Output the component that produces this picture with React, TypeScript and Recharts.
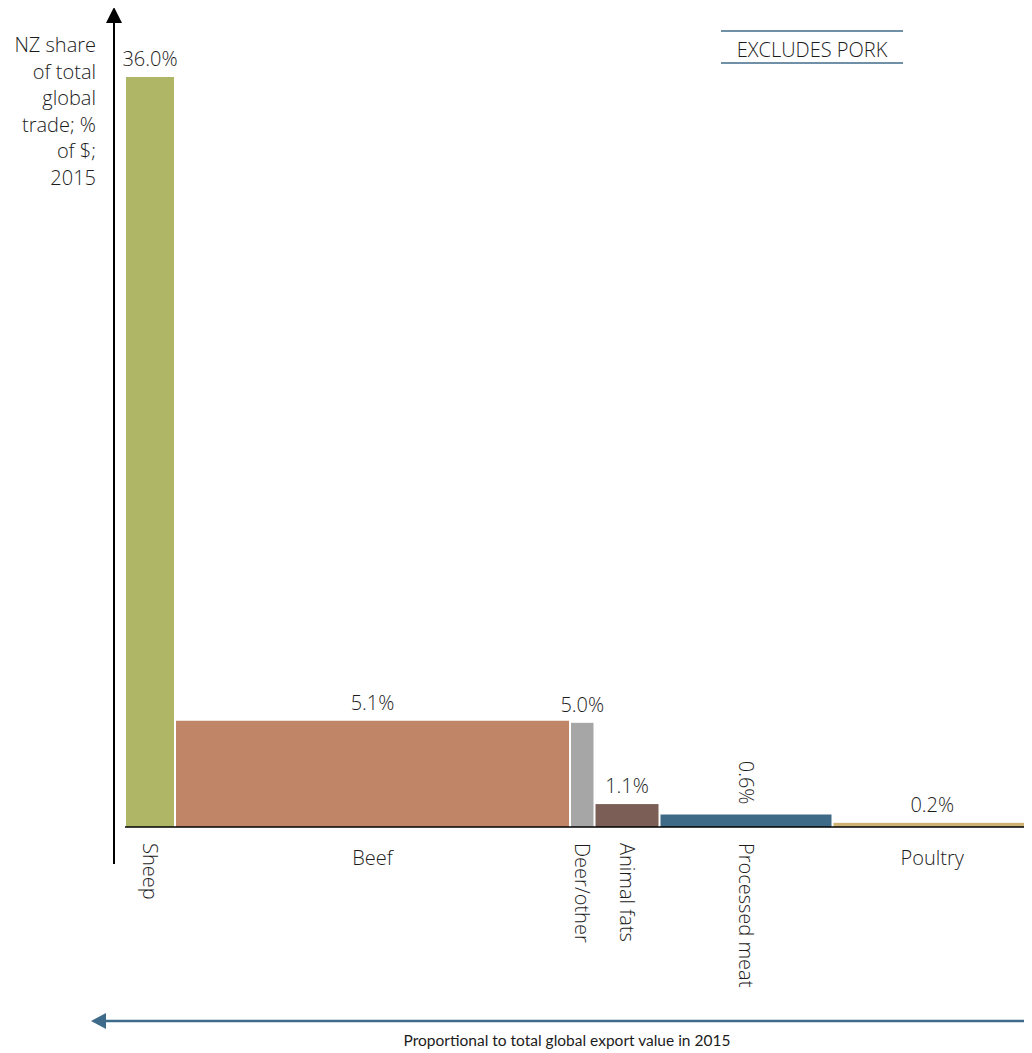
import { ComposedChart, XAxis, YAxis, ReferenceArea, Line } from 'recharts';

// Marimekko: width = share of global export value 2015, height = NZ share of that trade
const categories = ['Sheep', 'Beef', 'Deer/other', 'Animal fats', 'Processed meat', 'Poultry'];
const exportValue = [50, 395, 24.5, 65, 173, 199.5]; // relative
const nzShare = [36.0, 5.1, 5.0, 1.1, 0.6, 0.2];
const shareLabels = ['36.0%', '5.1%', '5.0%', '1.1%', '0.6%', '0.2%'];

const barColors = ['#afb666', '#c08566', '#a6a6a6', '#7b5e55', '#3e6a87', '#cfb273'];
const verticalName = [true, false, true, true, true, false];
const verticalValue = [false, false, false, false, true, false];

const INK = '#1c1c1c';
const FONT = '"Open Sans", "Noto Sans", sans-serif';
const WEIGHT = 300;
const STEEL = '#3f6b8a';

const total = exportValue.reduce((a, b) => a + b, 0);
const rows = categories.map((name, i) => {
  const start = exportValue.slice(0, i).reduce((a, b) => a + b, 0);
  return { name, start, end: start + exportValue[i], mid: start + exportValue[i] / 2, share: nzShare[i] };
});

const W = 1024;
const H = 1045;

function barShape(i: number) {
  return (p: any) => {
    const { x, y, width, height } = p;
    const cx = x + width / 2;
    return (
      <g>
        <rect x={x + 1} y={y} width={Math.max(width - 2, 0)} height={height} fill={barColors[i]} />
        {verticalValue[i] ? (
          <text
            x={cx}
            y={y - 10}
            transform={`rotate(90 ${cx} ${y - 10})`}
            textAnchor="end"
            dominantBaseline="central"
            fontSize={20}
            fontWeight={WEIGHT}
            fill={INK}
            fontFamily={FONT}
          >
            {shareLabels[i]}
          </text>
        ) : (
          <text x={cx} y={y - 11} textAnchor="middle" fontSize={20} fontWeight={WEIGHT} fill={INK} fontFamily={FONT}>
            {shareLabels[i]}
          </text>
        )}
      </g>
    );
  };
}

function NameTick(props: any) {
  const { x, y, payload } = props;
  const i = rows.findIndex((r) => Math.abs(r.mid - payload.value) < 1e-6);
  if (i < 0) return null;
  if (verticalName[i]) {
    return (
      <text
        x={x}
        y={y + 16}
        transform={`rotate(90 ${x} ${y + 16})`}
        textAnchor="start"
        dominantBaseline="central"
        fontSize={20}
        fontWeight={WEIGHT}
        fill={INK}
        fontFamily={FONT}
      >
        {categories[i]}
      </text>
    );
  }
  return (
    <text x={x} y={y + 38} textAnchor="middle" fontSize={20} fontWeight={WEIGHT} fill={INK} fontFamily={FONT}>
      {categories[i]}
    </text>
  );
}

const yTitle = ['NZ share', 'of total', 'global', 'trade; %', 'of $;', '2015'];

export default function App() {
  return (
    <div style={{ position: 'relative', width: W, height: H }}>
      <style>{'html, body { overflow: hidden; }'}</style>
      <ComposedChart width={W} height={H} data={rows} margin={{ top: 69, right: 0, bottom: 225, left: 117 }}>
        <XAxis
          type="number"
          dataKey="mid"
          domain={[0, total]}
          ticks={rows.map((r) => r.mid)}
          interval={0}
          tickLine={false}
          tickSize={0}
          tickMargin={0}
          tick={<NameTick />}
          axisLine={{ stroke: '#000', strokeWidth: 1.5 }}
          height={1}
        />
        <YAxis type="number" domain={[0, 36]} hide />
        {rows.map((r, i) => (
          <ReferenceArea
            key={r.name}
            x1={r.start}
            x2={r.end}
            y1={0}
            y2={r.share}
            ifOverflow="visible"
            shape={barShape(i)}
          />
        ))}
        <Line dataKey="share" stroke="none" dot={false} activeDot={false} isAnimationActive={false} />
      </ComposedChart>
      <svg
        width={W}
        height={H}
        style={{ position: 'absolute', left: 0, top: 0, overflow: 'visible', pointerEvents: 'none' }}
      >
        {/* y axis arrow */}
        <line x1={106} y1={8} x2={106} y2={856} stroke="#000" strokeWidth={2} />
        <polygon points="106,-1 98,15 114,15" fill="#000" />
        {yTitle.map((t, k) => (
          <text
            key={t}
            x={88}
            y={44 + k * 26.6}
            textAnchor="end"
            fontSize={20}
            fontWeight={WEIGHT}
            fill={INK}
            fontFamily={FONT}
          >
            {t}
          </text>
        ))}
        {/* excludes pork note */}
        <line x1={713} y1={23} x2={895} y2={23} stroke={STEEL} strokeWidth={1.5} />
        <line x1={713} y1={55} x2={895} y2={55} stroke={STEEL} strokeWidth={1.5} />
        <text x={804} y={49} textAnchor="middle" fontSize={20} fontWeight={WEIGHT} fill={INK} fontFamily={FONT}>
          EXCLUDES PORK
        </text>
        {/* bottom double arrow */}
        <line x1={90} y1={1013} x2={1020} y2={1013} stroke={STEEL} strokeWidth={2.5} />
        <polygon points="83,1013 98,1005 98,1021" fill={STEEL} />
        <polygon points="1030,1013 1016,1005 1016,1021" fill={STEEL} />
        <text x={559} y={1038} textAnchor="middle" fontSize={15.5} fill={INK} fontFamily="Lato, sans-serif">
          Proportional to total global export value in 2015
        </text>
      </svg>
    </div>
  );
}
